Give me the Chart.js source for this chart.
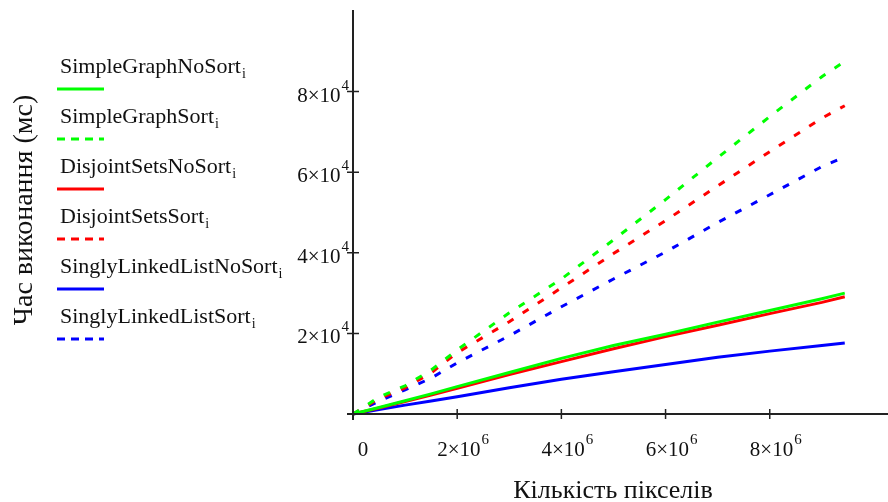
<!DOCTYPE html>
<html>
<head>
<meta charset="utf-8">
<script src="https://cdn.jsdelivr.net/npm/chart.js@4"></script>
<style>
  html, body { margin: 0; padding: 0; background: #fff; }
  #wrap { position: relative; width: 888px; height: 502px; }
</style>
</head>
<body>
<div id="wrap"><canvas id="chart" width="888" height="502"></canvas></div>
<script>
// pixel counts (x) and run time in ms (y)
const pixels = [0, 0.5e6, 1e6, 1.5e6, 2e6, 3e6, 4e6, 5e6, 6e6, 7e6, 8e6, 9e6, 9.44e6];

const simpleGraphNoSort   = [0, 1600, 3300, 5000, 6800, 10300, 13800, 17000, 19800, 22800, 25700, 28600, 30000];
const simpleGraphSort     = [0, 4200, 7000, 10900, 15900, 25100, 33500, 43200, 53200, 63600, 73800, 83700, 87500];
const disjointSetsNoSort  = [0, 1500, 3100, 4700, 6400, 9800, 13000, 16200, 19200, 22000, 24900, 27700, 29100];
const disjointSetsSort    = [0, 3800, 6500, 10200, 15200, 22900, 31300, 39800, 48000, 56600, 65100, 73400, 76500];
const linkedListNoSort    = [0, 1100, 2200, 3200, 4300, 6500, 8600, 10500, 12300, 14100, 15600, 17000, 17600];
const linkedListSort      = [0, 3200, 6000, 8900, 12700, 19400, 26600, 33500, 40200, 47500, 54400, 61400, 63800];

const seriesNames  = ["SimpleGraphNoSort", "SimpleGraphSort", "DisjointSetsNoSort", "DisjointSetsSort", "SinglyLinkedListNoSort", "SinglyLinkedListSort"];
const seriesValues = [simpleGraphNoSort, simpleGraphSort, disjointSetsNoSort, disjointSetsSort, linkedListNoSort, linkedListSort];
const seriesColors = ["#00ff00", "#00ff00", "#ff0000", "#ff0000", "#0000ff", "#0000ff"];
const seriesDashed = [false, true, false, true, false, true];

const xTicks = [0, 2e6, 4e6, 6e6, 8e6];
const yTicks = [2e4, 4e4, 6e4, 8e4];

const SERIF = '"Liberation Serif", "Times New Roman", serif';

function toPoints(ys){
  let pts = [];
  for(let i = 0; i < pixels.length; i++){
    pts.push({x: pixels[i], y: ys[i]});
  }
  return pts;
}

let datasets = [];
for(let i = 0; i < seriesNames.length; i++){
  datasets.push({
    label: seriesNames[i],
    data: toPoints(seriesValues[i]),
    borderColor: seriesColors[i],
    borderWidth: 3,
    borderDash: seriesDashed[i] ? [7, 11] : [],
    pointRadius: 0,
    tension: 0,
    clip: 6
  });
}

// splits 2e6 into ["2x10", "6"], 0 into ["0", ""]
function sciParts(v){
  if(v == 0) return ["0", ""];
  let e = Math.floor(Math.log10(v));
  let m = Math.round(v / Math.pow(10, e));
  return [m + "\u00d710", String(e)];
}

const mathcadPlugin = {
  id: "mathcad",
  afterDraw(chart){
    const ctx = chart.ctx;
    const xs = chart.scales.x;
    const ys = chart.scales.y;
    const x0 = xs.getPixelForValue(0);
    const y0 = ys.getPixelForValue(0);
    ctx.save();

    // axes crossing at the origin
    ctx.strokeStyle = "#222";
    ctx.lineWidth = 2;
    ctx.setLineDash([]);
    ctx.beginPath();
    ctx.moveTo(x0 - 6, y0); ctx.lineTo(888, y0);
    ctx.moveTo(x0, 10); ctx.lineTo(x0, y0 + 6);
    ctx.stroke();

    ctx.lineWidth = 1.5;
    ctx.beginPath();
    xTicks.forEach(function(t){
      if(t == 0) return;
      let px = xs.getPixelForValue(t);
      ctx.moveTo(px, y0 - 5); ctx.lineTo(px, y0 + 5);
    });
    yTicks.forEach(function(t){
      let py = ys.getPixelForValue(t);
      ctx.moveTo(x0 - 6, py); ctx.lineTo(x0 + 6, py);
    });
    ctx.stroke();

    ctx.fillStyle = "#111";
    ctx.textBaseline = "alphabetic";

    // x tick labels
    xTicks.forEach(function(t){
      let p = sciParts(t);
      let px = xs.getPixelForValue(t);
      ctx.font = "21px " + SERIF;
      let w1 = ctx.measureText(p[0]).width;
      ctx.font = "15px " + SERIF;
      let w2 = p[1] ? ctx.measureText(p[1]).width + 1 : 0;
      let left = px + (t == 0 ? 10 : 6) - (w1 + w2) / 2;
      ctx.font = "21px " + SERIF;
      ctx.textAlign = "left";
      ctx.fillText(p[0], left, 456);
      if(p[1]){
        ctx.font = "15px " + SERIF;
        ctx.fillText(p[1], left + w1 + 1, 444);
      }
    });

    // y tick labels
    yTicks.forEach(function(t){
      let p = sciParts(t);
      let py = ys.getPixelForValue(t);
      ctx.font = "15px " + SERIF;
      let w2 = ctx.measureText(p[1]).width;
      let right = x0 - 4;
      ctx.textAlign = "left";
      ctx.fillText(p[1], right - w2, py - 2);
      ctx.font = "21px " + SERIF;
      ctx.textAlign = "right";
      ctx.fillText(p[0], right - w2 - 1, py + 10);
    });

    // legend on the left, name above its line sample
    for(let i = 0; i < seriesNames.length; i++){
      let base = 73 + i * 50;
      ctx.fillStyle = "#111";
      ctx.textAlign = "left";
      ctx.font = "22px " + SERIF;
      ctx.fillText(seriesNames[i], 60, base);
      let w = ctx.measureText(seriesNames[i]).width;
      ctx.font = "14px " + SERIF;
      ctx.fillText("i", 60 + w + 1, base + 5);

      ctx.strokeStyle = seriesColors[i];
      ctx.lineWidth = 3;
      ctx.setLineDash(seriesDashed[i] ? [8, 6] : []);
      ctx.beginPath();
      ctx.moveTo(57, base + 16);
      ctx.lineTo(104, base + 16);
      ctx.stroke();
    }
    ctx.setLineDash([]);

    // axis titles
    ctx.fillStyle = "#111";
    ctx.font = "26px " + SERIF;
    ctx.textAlign = "center";
    ctx.fillText("Кількість пікселів", 613, 498);

    ctx.translate(25, 210);
    ctx.rotate(-Math.PI / 2);
    ctx.textBaseline = "middle";
    ctx.font = "28px " + SERIF;
    ctx.fillText("Час виконання (мс)", 0, 0);

    ctx.restore();
  }
};

new Chart(document.getElementById("chart"), {
  type: "line",
  data: { datasets: datasets },
  plugins: [mathcadPlugin],
  options: {
    responsive: false,
    animation: false,
    layout: { padding: { left: 353, right: 0, top: 11, bottom: 88 } },
    plugins: {
      legend: { display: false },
      tooltip: { enabled: false }
    },
    scales: {
      x: { type: "linear", min: 0, max: 10.27e6, display: false },
      y: { type: "linear", min: 0, max: 1.0e5, display: false }
    }
  }
});
</script>
</body>
</html>
